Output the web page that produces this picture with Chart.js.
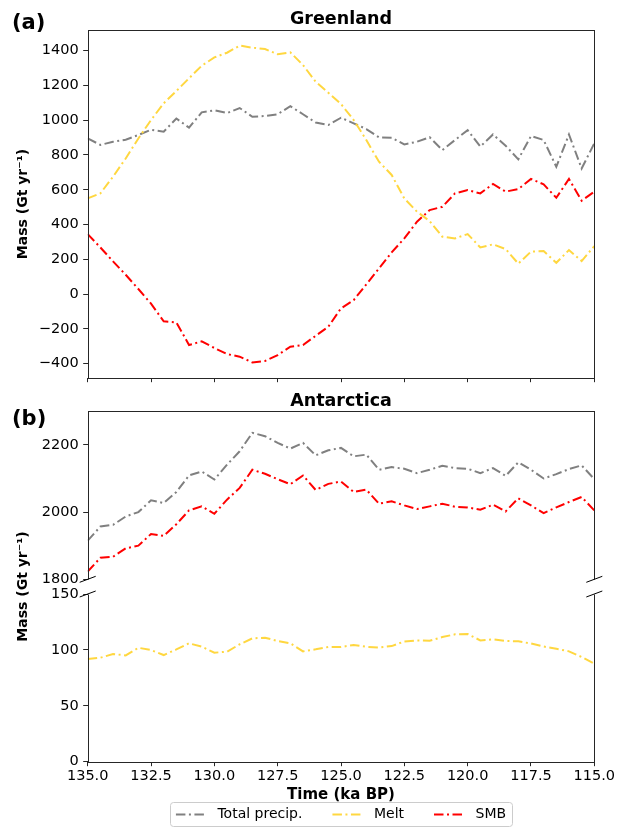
<!DOCTYPE html>
<html><head><meta charset="utf-8">
<script src="https://cdn.jsdelivr.net/npm/chart.js@4.4.1/dist/chart.umd.min.js"></script>
<style>
html,body{margin:0;padding:0;background:#fff;}
#wrap{position:relative;width:618px;height:827px;background:#fff;}
#wrap canvas{position:absolute;left:0;top:0;}
</style></head><body>
<div id="wrap">
<canvas id="cA" width="618" height="827"></canvas>
<canvas id="cB1" width="618" height="827"></canvas>
<canvas id="cB2" width="618" height="827"></canvas>
</div>
<script>
// ---------- data ----------
const time = [135.0,134.5,134.0,133.5,133.0,132.5,132.0,131.5,131.0,130.5,130.0,129.5,129.0,128.5,128.0,127.5,127.0,126.5,126.0,125.5,125.0,124.5,124.0,123.5,123.0,122.5,122.0,121.5,121.0,120.5,120.0,119.5,119.0,118.5,118.0,117.5,117.0,116.5,116.0,115.5,115.0];

const grPrecip = [895,858,876,888,915,945,934,1010,957,1045,1057,1041,1070,1020,1024,1034,1081,1034,987,972,1014,982,949,901,899,861,876,902,828,886,943,848,918,853,775,909,886,732,918,722,867];
const grMelt   = [550,579,675,780,895,1001,1097,1168,1241,1313,1361,1388,1429,1417,1409,1379,1390,1317,1221,1158,1093,1001,886,761,685,550,474,420,330,320,345,268,286,259,175,244,247,180,253,190,276];
const grSMB    = [345,268,188,111,29,-55,-157,-163,-293,-272,-310,-345,-360,-393,-385,-351,-303,-293,-240,-188,-82,-35,56,148,240,320,416,483,502,579,598,579,633,589,604,662,631,554,662,537,589];

const anPrecip = [1915,1957,1962,1987,2000,2035,2027,2060,2109,2121,2097,2141,2181,2236,2226,2206,2189,2206,2169,2184,2191,2166,2171,2126,2134,2129,2116,2126,2138,2131,2129,2116,2131,2108,2148,2126,2100,2113,2128,2139,2098];
const anSMB    = [1823,1864,1867,1892,1900,1935,1929,1964,2005,2017,1995,2037,2072,2126,2114,2098,2083,2109,2066,2084,2091,2060,2067,2025,2032,2020,2009,2017,2025,2016,2014,2007,2022,2002,2041,2020,1997,2014,2030,2045,2005];
const anMelt   = [91.8,93.0,96.3,95.1,101.9,99.9,95.4,100.4,105.9,102.9,97.5,98.4,105.0,110.3,110.9,108.0,105.9,98.7,100.5,102.6,102.6,104.4,102.8,102.2,103.4,107.6,108.5,108.2,111.5,113.9,114.2,108.5,109.4,108.0,107.7,105.7,103.0,101.0,98.7,93.7,87.7];

const seriesLabels = ['Total precip.', 'Melt', 'SMB'];
const xTicks = [135, 132.5, 130, 127.5, 125, 122.5, 120, 117.5, 115];
const yTicksA = [-400,-200,0,200,400,600,800,1000,1200,1400];
const yTicksB1 = [1800, 2000, 2200];
const yTicksB2 = [0, 50, 100, 150];

// ---------- styling / layout ----------
Chart.defaults.font.family = '"DejaVu Sans", sans-serif';
Chart.defaults.color = '#000';
const FF = '"DejaVu Sans", sans-serif';
const COLORS = ['#808080', '#FFD740', '#FF0000'];
const DASH = [9.5, 3.5, 2, 3.5];
const L = 87.7, R = 594.3, W = 618, H = 827;
const boxes = { A: [30.3, 377.7], B1: [411.3, 579.3], B2: [594, 761.7] };
const SPINE = '#262626';

const pts = (vals) => time.map((t, i) => ({ x: t, y: vals[i] }));
function ds(label, idx, vals) {
  return { label, data: pts(vals), borderColor: COLORS[idx], backgroundColor: COLORS[idx],
    borderWidth: 2, borderDash: DASH, pointRadius: 0, tension: 0, fill: false, order: 3 - idx,
    borderCapStyle: 'butt', borderJoinStyle: 'miter' };
}
const minusFmt = v => String(v).replace('-', '\u2212');

function xScale(showMarks, showLabels, boxH) {
  return { type: 'linear', min: 115, max: 135, reverse: true,
    afterBuildTicks: s => { s.ticks = xTicks.map(v => ({ value: v })); },
    afterFit: s => { s.height = boxH; s.paddingLeft = 0; s.paddingRight = 0; s.paddingTop = 0; s.paddingBottom = 0; },
    grid: { display: showMarks, drawOnChartArea: false, drawTicks: true, tickLength: 4.5, tickColor: SPINE, lineWidth: 1 },
    border: { display: false },
    ticks: { display: showLabels, autoSkip: false, maxRotation: 0, minRotation: 0, padding: 1.5,
      font: { size: 14.5 }, color: '#000', callback: v => Number(v).toFixed(1) } };
}
function yScale(min, max, ticks) {
  return { type: 'linear', min, max,
    afterBuildTicks: s => { s.ticks = ticks.map(v => ({ value: v })); },
    afterFit: s => { s.width = L; s.paddingTop = 0; s.paddingBottom = 0; s.paddingLeft = 0; s.paddingRight = 0; },
    grid: { display: true, drawOnChartArea: false, drawTicks: true, tickLength: 4.5, tickColor: SPINE, lineWidth: 1 },
    border: { display: false },
    ticks: { autoSkip: false, padding: 4.5, font: { size: 14.5 }, color: '#000', callback: minusFmt } };
}

const decor = {
  id: 'decor',
  afterDatasetsDraw(chart, args, o) {
    const { ctx, chartArea: a } = chart;
    ctx.save();
    ctx.setLineDash([]);
    ctx.strokeStyle = SPINE; ctx.lineWidth = 1;
    const P = v => Math.round(v) + 0.5;
    const l = P(a.left), r = P(a.right), t = P(a.top), b = P(a.bottom);
    ctx.beginPath();
    if (o.spines.includes('l')) { ctx.moveTo(l, t); ctx.lineTo(l, b); }
    if (o.spines.includes('r')) { ctx.moveTo(r, t); ctx.lineTo(r, b); }
    if (o.spines.includes('t')) { ctx.moveTo(l - 0.5, t); ctx.lineTo(r + 0.5, t); }
    if (o.spines.includes('b')) { ctx.moveTo(l - 0.5, b); ctx.lineTo(r + 0.5, b); }
    ctx.stroke();
    if (o.breakAt) {
      const y = o.breakAt === 'bottom' ? a.bottom : a.top;
      ctx.strokeStyle = '#000';
      ctx.beginPath();
      for (const x of [a.left, a.right]) { ctx.moveTo(x - 8, y + 3); ctx.lineTo(x + 8, y - 3); }
      ctx.stroke();
    }
    for (const tx of (o.texts || [])) {
      ctx.save();
      ctx.fillStyle = '#000';
      ctx.font = tx.font;
      ctx.textAlign = tx.align || 'center';
      ctx.textBaseline = tx.baseline || 'alphabetic';
      ctx.translate(tx.x, tx.y);
      if (tx.rot) ctx.rotate(tx.rot);
      ctx.fillText(tx.text, 0, 0);
      ctx.restore();
    }
    if (o.legend) {
      const g = o.legend;
      const items = chart.data.datasets;
      ctx.font = g.font;
      const widths = items.map(d => ctx.measureText(d.label).width);
      const sw = 30, gt = 11.5, gi = 30, px = 5.8;
      const content = items.length * (sw + gt) + widths.reduce((s, w) => s + w, 0) + (items.length - 1) * gi;
      const bw = content + 2 * px;
      const bx = g.cx - bw / 2;
      ctx.beginPath();
      ctx.roundRect(Math.round(bx) + 0.5, g.top + 0.5, Math.round(bw), g.h, 3);
      ctx.fillStyle = 'rgba(255,255,255,0.8)';
      ctx.fill();
      ctx.strokeStyle = '#cccccc'; ctx.lineWidth = 1; ctx.stroke();
      const cy = g.top + g.h / 2 + 0.5;
      let x = bx + px;
      items.forEach((d, i) => {
        ctx.save();
        ctx.strokeStyle = d.borderColor; ctx.lineWidth = d.borderWidth;
        ctx.setLineDash(d.borderDash); ctx.lineCap = 'butt';
        ctx.beginPath(); ctx.moveTo(x, cy); ctx.lineTo(x + sw, cy); ctx.stroke();
        ctx.restore();
        ctx.fillStyle = '#000'; ctx.textAlign = 'left'; ctx.textBaseline = 'middle';
        ctx.fillText(d.label, x + sw + gt, cy);
        x += sw + gt + widths[i] + gi;
      });
    }
    ctx.restore();
  }
};

function padFor(key, xBoxH) {
  const [t, b] = boxes[key];
  return { left: 0, right: W - R, top: t, bottom: H - b - xBoxH };
}
const midX = (L + R) / 2;
const yLabel = 'Mass (Gt yr\u207B\u00B9)';
const B2xH = H - boxes.B2[1] - 2;

// ---------- Panel (a): Greenland ----------
new Chart(document.getElementById('cA'), {
  type: 'line',
  data: { datasets: [ds(seriesLabels[0], 0, grPrecip), ds(seriesLabels[1], 1, grMelt), ds(seriesLabels[2], 2, grSMB)] },
  options: {
    responsive: false, animation: false, devicePixelRatio: 1,
    layout: { padding: padFor('A', 0) },
    scales: { x: xScale(true, false, 0), y: yScale(-481, 1517, yTicksA) },
    plugins: {
      legend: { display: false }, tooltip: { enabled: false },
      decor: {
        spines: 'lrtb',
        texts: [
          { text: '(a)', x: 12, y: 29, font: `bold 21px ${FF}`, align: 'left' },
          { text: 'Greenland', x: midX, y: 24, font: `bold 17.5px ${FF}` },
          { text: yLabel, x: 23, y: (boxes.A[0] + boxes.A[1]) / 2, font: `bold 14px ${FF}`, baseline: 'middle', rot: -Math.PI / 2 }
        ],
        legend: { cx: midX, top: 802, h: 24, font: `14px ${FF}` }
      }
    }
  },
  plugins: [decor]
});

// ---------- Panel (b) upper: Antarctica precip & SMB ----------
new Chart(document.getElementById('cB1'), {
  type: 'line',
  data: { datasets: [ds(seriesLabels[0], 0, anPrecip), ds(seriesLabels[2], 2, anSMB)] },
  options: {
    responsive: false, animation: false, devicePixelRatio: 1,
    layout: { padding: padFor('B1', 0) },
    scales: { x: xScale(false, false, 0), y: yScale(1800, 2300, yTicksB1) },
    plugins: {
      legend: { display: false }, tooltip: { enabled: false },
      decor: {
        spines: 'lrt', breakAt: 'bottom',
        texts: [
          { text: '(b)', x: 12, y: 425.4, font: `bold 21px ${FF}`, align: 'left' },
          { text: 'Antarctica', x: midX, y: 405.7, font: `bold 17.5px ${FF}` },
          { text: yLabel, x: 23, y: (boxes.B1[0] + boxes.B2[1]) / 2, font: `bold 14px ${FF}`, baseline: 'middle', rot: -Math.PI / 2 }
        ]
      }
    }
  },
  plugins: [decor]
});

// ---------- Panel (b) lower: Antarctica melt ----------
new Chart(document.getElementById('cB2'), {
  type: 'line',
  data: { datasets: [ds(seriesLabels[1], 1, anMelt)] },
  options: {
    responsive: false, animation: false, devicePixelRatio: 1,
    layout: { padding: padFor('B2', B2xH) },
    scales: { x: xScale(true, true, B2xH), y: yScale(0, 150, yTicksB2) },
    plugins: {
      legend: { display: false }, tooltip: { enabled: false },
      decor: {
        spines: 'lrb', breakAt: 'top',
        texts: [
          { text: 'Time (ka BP)', x: midX, y: 795, font: `bold 15px ${FF}`, baseline: 'middle' }
        ]
      }
    }
  },
  plugins: [decor]
});
</script>
</body></html>
